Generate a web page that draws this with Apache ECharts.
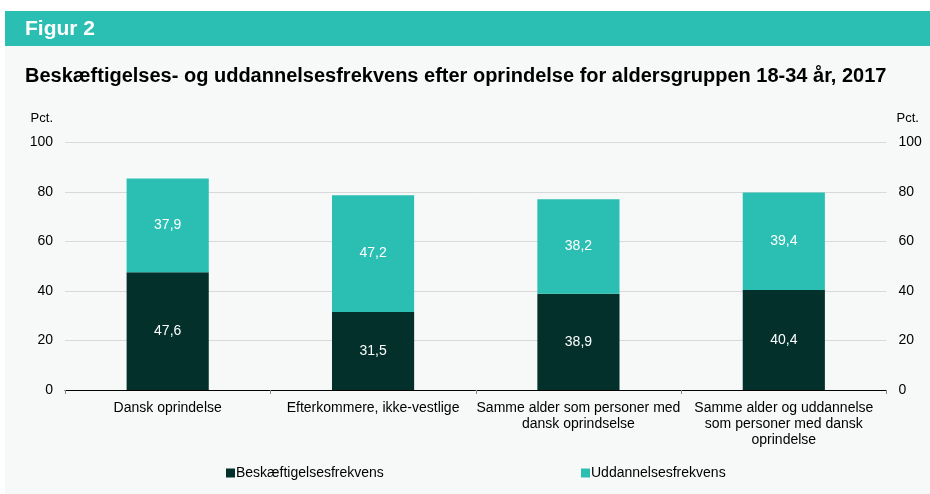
<!DOCTYPE html>
<html>
<head>
<meta charset="utf-8">
<script src="https://cdn.jsdelivr.net/npm/echarts@6/dist/echarts.min.js"></script>
<style>
  html, body { margin: 0; padding: 0; background: #fff; }
  #container { width: 930px; height: 494px; }
</style>
</head>
<body>
<div id="container"></div>
<script>
const categories = [
  "Dansk oprindelse",
  "Efterkommere, ikke-vestlige",
  "Samme alder som personer med\ndansk oprindselse",
  "Samme alder og uddannelse\nsom personer med dansk\noprindelse",
];
const beskaeftigelse = [47.6, 31.5, 38.9, 40.4];
const uddannelse = [37.9, 47.2, 38.2, 39.4];
const yTicks = { min: 0, max: 100, interval: 20 };

const dark = "#03302b";
const teal = "#2bbfb3";
const font = "Liberation Sans, Arial, sans-serif";

const chart = echarts.init(document.getElementById("container"), null, { renderer: "canvas" });

function komma(p) {
  return String(p.value.toFixed(1)).replace(".", ",");
}

function valueAxis(pos) {
  const left = pos === "left";
  return {
    type: "value",
    position: pos,
    min: yTicks.min,
    max: yTicks.max,
    interval: yTicks.interval,
    name: "Pct.",
    nameLocation: "end",
    nameGap: 18,
    nameTextStyle: {
      color: "#000",
      fontSize: 13,
      fontFamily: font,
      align: left ? "right" : "left",
      padding: left ? [0, 12, 0, 0] : [0, 0, 0, 10],
    },
    axisLine: { show: false },
    axisTick: { show: false },
    axisLabel: { color: "#000", fontSize: 14, fontFamily: font, margin: 12 },
    splitLine: { show: left, lineStyle: { color: "#d9d9d9", width: 1 } },
  };
}

const option = {
  backgroundColor: "#fff",
  animation: false,
  graphic: [
    { type: "rect", shape: { x: 5, y: 46, width: 925, height: 448 }, style: { fill: "#f7f9f9" }, z: -10 },
    { type: "rect", shape: { x: 5, y: 11, width: 925, height: 35 }, style: { fill: teal }, z: -9 },
    {
      type: "text", left: 25, top: 19,
      style: { text: "Figur 2", fill: "#fff", font: "bold 21px " + font },
    },
    {
      type: "text", left: 25, top: 66,
      style: {
        text: "Beskæftigelses- og uddannelsesfrekvens efter oprindelse for aldersgruppen 18-34 år, 2017",
        fill: "#000", font: "bold 20px " + font,
      },
    },
  ],
  grid: { left: 65, right: 43.5, top: 142.5, bottom: 104, containLabel: false },
  legend: [
    {
      data: ["Beskæftigelsesfrekvens"], left: 221, top: 461,
      icon: "rect", itemWidth: 9, itemHeight: 9,
      textStyle: { color: "#000", fontSize: 14, fontFamily: font, padding: [0, 0, 0, -4] },
    },
    {
      data: ["Uddannelsesfrekvens"], left: 576, top: 461,
      icon: "rect", itemWidth: 9, itemHeight: 9,
      textStyle: { color: "#000", fontSize: 14, fontFamily: font, padding: [0, 0, 0, -4] },
    },
  ],
  xAxis: {
    type: "category",
    data: categories,
    axisLine: { lineStyle: { color: "#000", width: 1 } },
    axisTick: { show: true, length: 4, lineStyle: { color: "#888" } },
    axisLabel: { color: "#000", fontSize: 14, fontFamily: font, lineHeight: 16, margin: 10, interval: 0 },
  },
  yAxis: [valueAxis("left"), valueAxis("right")],
  series: [
    {
      name: "Beskæftigelsesfrekvens",
      type: "bar",
      stack: "total",
      barWidth: "40%",
      data: beskaeftigelse,
      itemStyle: { color: dark },
      label: { show: true, position: "inside", color: "#fff", fontSize: 14, fontFamily: font, formatter: komma },
    },
    {
      name: "Uddannelsesfrekvens",
      type: "bar",
      stack: "total",
      barWidth: "40%",
      data: uddannelse,
      itemStyle: { color: teal },
      label: { show: true, position: "inside", color: "#fff", fontSize: 14, fontFamily: font, formatter: komma },
    },
  ],
};

chart.setOption(option);
window.addEventListener("resize", chart.resize);
</script>
</body>
</html>
